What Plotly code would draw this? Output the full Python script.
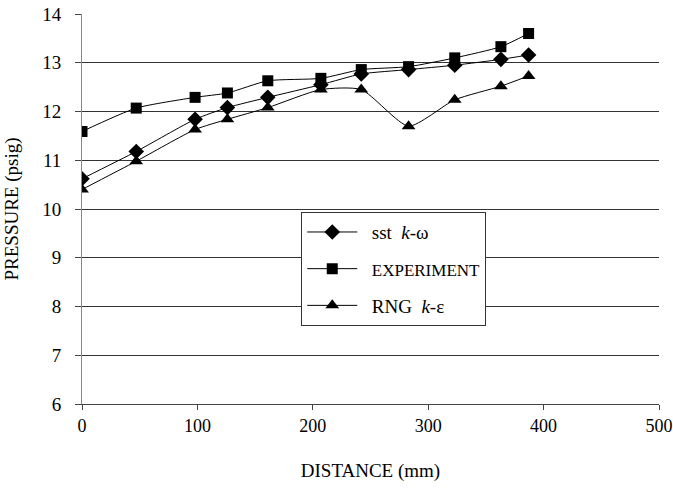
import plotly.graph_objects as go

distance = [0, 47, 98, 126, 161, 207, 242, 283, 323, 363, 387]
sst_kw = [10.62, 11.18, 11.84, 12.08, 12.29, 12.55, 12.77, 12.86, 12.95, 13.07, 13.16]
experiment = [11.59, 12.07, 12.29, 12.38, 12.63, 12.68, 12.86, 12.92, 13.10, 13.33, 13.60]
rng_ke = [10.40, 10.98, 11.63, 11.84, 12.08, 12.45, 12.45, 11.70, 12.24, 12.52, 12.73]

x_ticks = [0, 100, 200, 300, 400, 500]
y_ticks = [6, 7, 8, 9, 10, 11, 12, 13, 14]

FONT = "Liberation Serif"
NB = "\u00a0"

fig = go.Figure()
fig.add_trace(go.Scatter(
    x=distance, y=sst_kw, mode="lines+markers", legendgroup="a",
    name=f"{NB}{NB}sst{NB}{NB}<i>k</i>-ω",
    line=dict(color="black", width=1, shape="spline", smoothing=0.6),
    marker=dict(symbol="diamond", size=12, color="black"),
))
fig.add_trace(go.Scatter(
    x=distance, y=experiment, mode="lines+markers", legendgroup="b",
    name=f"{NB}{NB}<span style='font-size:17px'>EXPERIMENT</span>",
    line=dict(color="black", width=1, shape="spline", smoothing=0.6),
    marker=dict(symbol="square", size=11, color="black"),
))
fig.add_trace(go.Scatter(
    x=distance, y=rng_ke, mode="lines+markers", legendgroup="c",
    name=f"{NB}{NB}RNG{NB}{NB}<i>k</i>-ε",
    line=dict(color="black", width=1, shape="spline", smoothing=0.6),
    marker=dict(symbol="triangle-up", size=12, color="black"),
))

fig.update_layout(
    width=673, height=493,
    margin=dict(l=82, r=14, t=14, b=89),
    paper_bgcolor="white", plot_bgcolor="white",
    font=dict(family=FONT, size=19, color="black"),
    showlegend=True,
    legend=dict(
        x=0.38, y=0.492, xanchor="left", yanchor="top",
        bgcolor="white", bordercolor="#333333", borderwidth=1,
        font=dict(family=FONT, size=19, color="black"),
        tracegroupgap=9, itemwidth=50,
    ),
    xaxis=dict(
        range=[0, 500], tickvals=x_ticks, ticktext=[str(v) for v in x_ticks],
        showgrid=False, zeroline=False, automargin=False,
        showline=True, linecolor="#444444", linewidth=1,
        ticks="outside", ticklen=5, tickcolor="#444444",
        ticklabeloverflow="allow",
        title=dict(text="DISTANCE (mm)", standoff=29, font=dict(family=FONT, size=19)),
        tickfont=dict(family=FONT, size=18),
    ),
    yaxis=dict(
        range=[6, 14], tickvals=y_ticks, ticktext=[str(v) for v in y_ticks],
        showgrid=True, gridcolor="#333333", gridwidth=1, zeroline=False,
        automargin=False, ticklabeloverflow="allow",
        showline=True, linecolor="#888888", linewidth=1,
        ticks="outside", ticklen=6, tickcolor="#444444",
        title=dict(text="PRESSURE (psig)", standoff=18, font=dict(family=FONT, size=19)),
        tickfont=dict(family=FONT, size=19), ticklabelstandoff=10,
    ),
)

fig.write_html("out.html")
